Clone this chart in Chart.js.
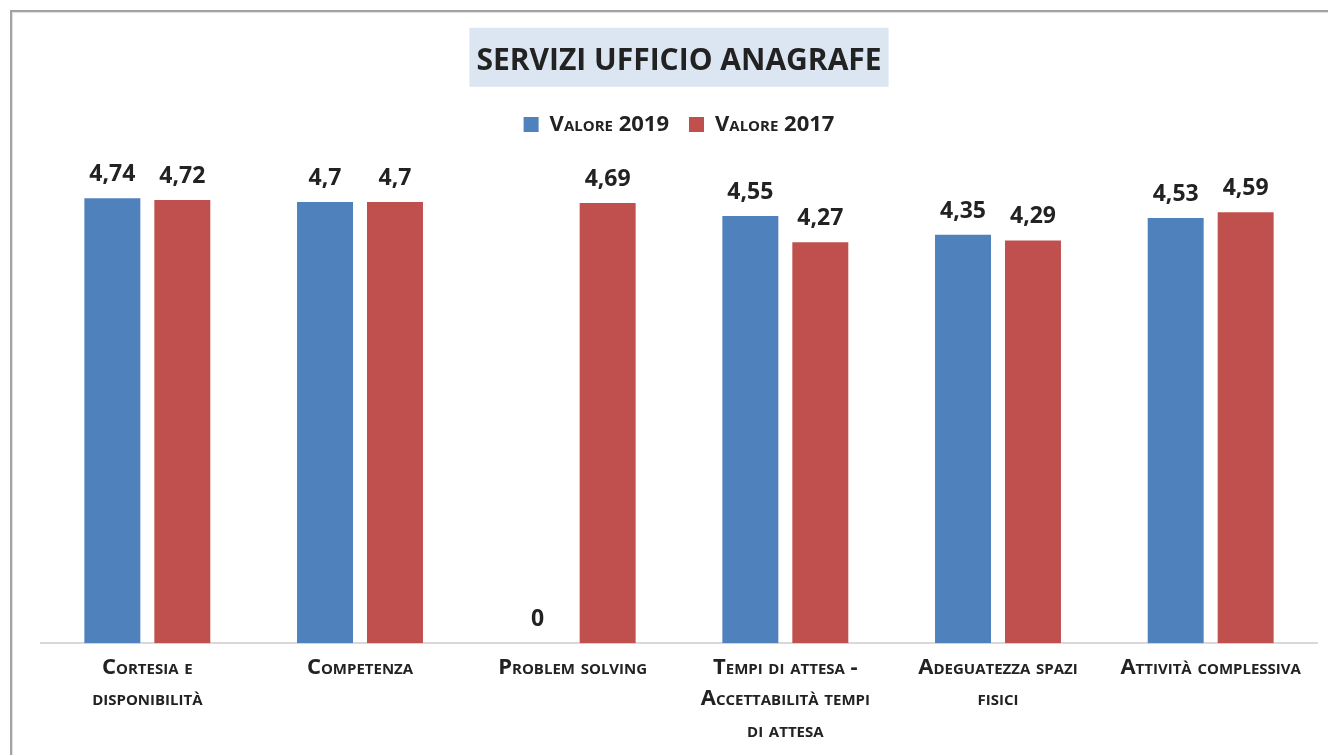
<!DOCTYPE html>
<html>
<head>
<meta charset="utf-8">
<script src="https://cdn.jsdelivr.net/npm/chart.js@4.4.1/dist/chart.umd.min.js"></script>
<style>
    html, body { margin: 0; padding: 0; background: #fff; overflow: hidden; }
    #wrap { position: relative; width: 1328px; height: 755px; }
    #frame {
        position: absolute; left: 10px; top: 10px; width: 1400px; height: 800px;
        border-top: 2px solid #a3a3a3; border-left: 2px solid #a3a3a3;
        box-shadow: inset 1px 1px 1px #e0e0e0;
    }
    canvas { position: absolute; left: 0; top: 0; }
</style>
</head>
<body>
<div id="wrap">
    <div id="frame"></div>
    <canvas id="anagrafe-chart" width="1328" height="755"></canvas>
</div>
<script>
// =============================
// DATI
// =============================
const categories = [
    ['Cortesia e', 'disponibilità'],
    ['Competenza'],
    ['Problem solving'],
    ['Tempi di attesa -', 'Accettabilità tempi', 'di attesa'],
    ['Adeguatezza spazi', 'fisici'],
    ['Attività complessiva']
];
const valori2019 = [4.74, 4.7, 0, 4.55, 4.35, 4.53];
const valori2017 = [4.72, 4.7, 4.69, 4.27, 4.29, 4.59];
const seriesNames = ['Valore 2019', 'Valore 2017'];

const blue = '#4f81bd';
const red = '#c0504d';
const textColor = '#222222';
const fontFamily = '"Open Sans", Lato, sans-serif';

const titleFont = { family: fontFamily, size: 30, weight: 'bold', lineHeight: 1.12 };
const titlePadTop = 45;

// box dietro il titolo
const titleBoxPlugin = {
    id: 'titleBox',
    beforeDraw(chart) {
        const ctx = chart.ctx;
        const tb = chart.titleBlock;
        if (!tb) return;
        ctx.save();
        ctx.font = `bold ${titleFont.size}px ${fontFamily}`;
        const w = ctx.measureText(chart.options.plugins.title.text).width + 14;
        const cx = tb.left + tb.width / 2;
        const cy = tb.top + titlePadTop + titleFont.size * titleFont.lineHeight / 2;
        ctx.fillStyle = '#dce6f2';
        ctx.fillRect(cx - w / 2, cy - 34, w, 59);
        ctx.restore();
    }
};

// etichette dei valori sopra le barre
const valueLabelPlugin = {
    id: 'valueLabels',
    afterDatasetsDraw(chart) {
        const ctx = chart.ctx;
        ctx.save();
        ctx.font = `bold 23px ${fontFamily}`;
        ctx.fillStyle = textColor;
        ctx.textAlign = 'center';
        ctx.textBaseline = 'alphabetic';
        chart.data.datasets.forEach((ds, i) => {
            const meta = chart.getDatasetMeta(i);
            meta.data.forEach((bar, j) => {
                const txt = String(ds.data[j]).replace('.', ',');
                ctx.fillText(txt, bar.x, bar.y - 17);
            });
        });
        ctx.restore();
    }
};

const ctx = document.getElementById('anagrafe-chart').getContext('2d');
new Chart(ctx, {
    type: 'bar',
    data: {
        labels: categories,
        datasets: [{
            label: seriesNames[0],
            data: valori2019,
            backgroundColor: blue,
            borderWidth: 0
        }, {
            label: seriesNames[1],
            data: valori2017,
            backgroundColor: red,
            borderWidth: 0
        }]
    },
    options: {
        responsive: false,
        animation: false,
        events: [],
        layout: { padding: { left: 41, right: 11, top: 0, bottom: 0 } },
        datasets: {
            bar: { barPercentage: 0.8, categoryPercentage: 0.658 }
        },
        scales: {
            y: {
                display: false,
                min: 0,
                max: 5.3
            },
            x: {
                grid: { display: false, drawTicks: false },
                border: { display: true, color: '#d9d9d9', width: 2 },
                ticks: {
                    color: textColor,
                    padding: 8,
                    maxRotation: 0,
                    autoSkip: false,
                    font: { family: fontFamily, size: 22, weight: 'small-caps bold', lineHeight: 1.45 }
                }
            }
        },
        plugins: {
            title: {
                display: true,
                text: 'SERVIZI UFFICIO ANAGRAFE',
                color: textColor,
                font: titleFont,
                padding: { top: titlePadTop, bottom: 15 }
            },
            legend: {
                display: true,
                labels: {
                    color: textColor,
                    boxWidth: 15,
                    boxHeight: 15,
                    padding: 20,
                    font: { family: fontFamily, size: 22, weight: 'small-caps bold', lineHeight: 1.1 }
                }
            },
            tooltip: { enabled: false }
        }
    },
    plugins: [titleBoxPlugin, valueLabelPlugin]
});
</script>
</body>
</html>
